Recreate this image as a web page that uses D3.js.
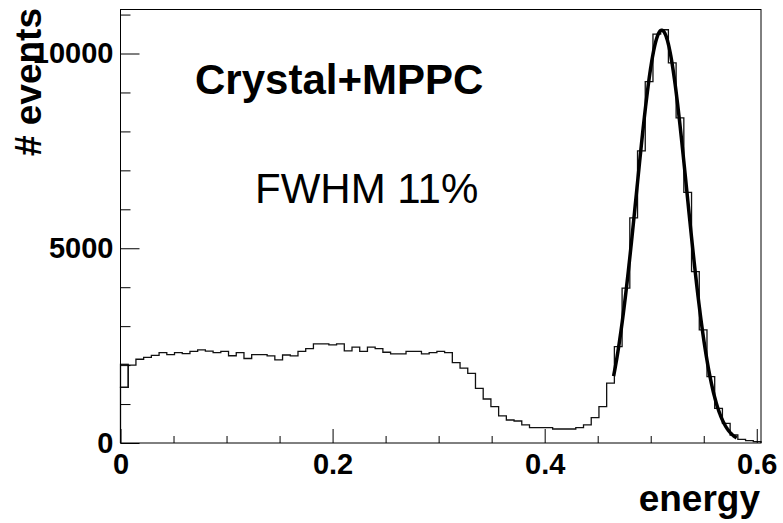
<!DOCTYPE html>
<html>
<head>
<meta charset="utf-8">
<script src="https://cdn.jsdelivr.net/npm/d3@7"></script>
<style>
  html, body { margin: 0; padding: 0; background: #fff; }
  svg { display: block; }
  text { font-family: "Liberation Sans", Arial, Helvetica, sans-serif; fill: #000; }
</style>
</head>
<body>
<svg id="chart" width="783" height="523"></svg>
<script>
// Energy spectrum: counts per bin over [0, energyMax]
const energyMax = 0.604;
const counts = [
  1430, 2000, 2150, 2200, 2250, 2320, 2270, 2320, 2295, 2355,
  2390, 2360, 2320, 2355, 2240, 2320, 2170, 2270, 2270, 2235,
  2135, 2260, 2235, 2355, 2425, 2545, 2545, 2520, 2545, 2365,
  2460, 2355, 2460, 2425, 2330, 2290, 2290, 2350, 2350, 2290,
  2320, 2350, 2320, 2065, 1920, 1790, 1405, 1130, 935, 695,
  590, 565, 465, 395, 395, 395, 360, 360, 360, 395,
  465, 650, 935, 1535, 2475, 3975, 5780, 7500, 9280, 10500,
  10610, 9760, 8350, 6435, 4400, 2905, 1705, 890, 505, 205,
  95, 60, 35
];
// outline band seen over the first bin
const firstBinBand = [1430, 2020];

// Gaussian fit of the photopeak
const fitConstant = 10600;
const fitMean = 0.5104;
const fitSigma = 0.0238;
const fitRange = [0.465, 0.581];

// Axes
const yMax = 11130;
const xMajorTicks = [0, 0.2, 0.4, 0.6];
const xTickLabels = ["0", "0.2", "0.4", "0.6"];
const xMinorTicks = [0.05, 0.1, 0.15, 0.25, 0.3, 0.35, 0.45, 0.5, 0.55];
const yMajorTicks = [0, 5000, 10000];
const yTickLabels = ["0", "5000", "10000"];
const yMinorTicks = [1000, 2000, 3000, 4000, 6000, 7000, 8000, 9000, 11000];

const xTitle = "energy";
const yTitle = "# events";
const mainLabel = "Crystal+MPPC";
const resolutionLabel = "FWHM 11%";

const svg = d3.select("#chart");
const frame = { left: 120.5, right: 761, top: 9.5, bottom: 443 };

const x = d3.scaleLinear().domain([0, energyMax]).range([frame.left, frame.right]);
const y = d3.scaleLinear().domain([0, yMax]).range([frame.bottom, frame.top]);

const binWidth = energyMax / counts.length;

// Histogram outline as a step path
const stepPts = [[0, 0]];
counts.forEach((c, i) => {
  stepPts.push([i * binWidth, c]);
  stepPts.push([(i + 1) * binWidth, c]);
});
stepPts.push([energyMax, 0]);
const line = d3.line().x(d => x(d[0])).y(d => y(d[1]));

svg.append("path")
  .attr("d", line(stepPts))
  .attr("fill", "none")
  .attr("stroke", "#111")
  .attr("stroke-width", 1.3);

svg.append("rect")
  .attr("x", x(0))
  .attr("y", y(firstBinBand[1]))
  .attr("width", x(binWidth) - x(0))
  .attr("height", y(firstBinBand[0]) - y(firstBinBand[1]))
  .attr("fill", "none")
  .attr("stroke", "#111")
  .attr("stroke-width", 1.3);

// Fit curve
const gauss = e => fitConstant * Math.exp(-0.5 * Math.pow((e - fitMean) / fitSigma, 2));
const fitPts = d3.range(0, 201).map(i => {
  const e = fitRange[0] + (fitRange[1] - fitRange[0]) * i / 200;
  return [e, gauss(e)];
});
svg.append("path")
  .attr("d", line(fitPts))
  .attr("fill", "none")
  .attr("stroke", "#000")
  .attr("stroke-width", 3.5)
  .attr("stroke-linejoin", "round");

// Frame
svg.append("rect")
  .attr("x", frame.left)
  .attr("y", frame.top)
  .attr("width", frame.right - frame.left)
  .attr("height", frame.bottom - frame.top)
  .attr("fill", "none")
  .attr("stroke", "#000")
  .attr("stroke-width", 1);

// X axis (ticks pointing into the frame)
svg.append("g")
  .attr("transform", `translate(0,${frame.bottom})`)
  .call(d3.axisBottom(x)
    .tickValues(xMajorTicks)
    .tickFormat((d, i) => xTickLabels[i])
    .tickSize(-14)
    .tickSizeOuter(0)
    .tickPadding(10));
svg.append("g")
  .attr("transform", `translate(0,${frame.bottom})`)
  .call(d3.axisBottom(x).tickValues(xMinorTicks).tickFormat("").tickSize(-7).tickSizeOuter(0));

// Y axis
svg.append("g")
  .attr("transform", `translate(${frame.left},0)`)
  .call(d3.axisLeft(y)
    .tickValues(yMajorTicks)
    .tickFormat((d, i) => yTickLabels[i])
    .tickSize(-19)
    .tickSizeOuter(0)
    .tickPadding(7));
svg.append("g")
  .attr("transform", `translate(${frame.left},0)`)
  .call(d3.axisLeft(y).tickValues(yMinorTicks).tickFormat("").tickSize(-10).tickSizeOuter(0));

svg.selectAll(".domain").remove();
svg.selectAll(".tick line").attr("stroke", "#000").attr("stroke-width", 1);
svg.selectAll(".tick text")
  .attr("font-family", "'Liberation Sans', Arial, sans-serif")
  .attr("font-weight", "bold")
  .attr("font-size", 29)
  .attr("fill", "#000");

// Axis titles
svg.append("text")
  .attr("x", 760)
  .attr("y", 511)
  .attr("text-anchor", "end")
  .attr("font-weight", "bold")
  .attr("font-size", 37)
  .text(xTitle);

svg.append("text")
  .attr("transform", "translate(41,8) rotate(-90)")
  .attr("text-anchor", "end")
  .attr("font-weight", "bold")
  .attr("font-size", 37)
  .text(yTitle);

// Annotations
svg.append("text")
  .attr("x", 195)
  .attr("y", 94)
  .attr("font-weight", "bold")
  .attr("font-size", 42)
  .text(mainLabel);

svg.append("text")
  .attr("x", 255)
  .attr("y", 203)
  .attr("font-size", 42)
  .text(resolutionLabel);
</script>
</body>
</html>
